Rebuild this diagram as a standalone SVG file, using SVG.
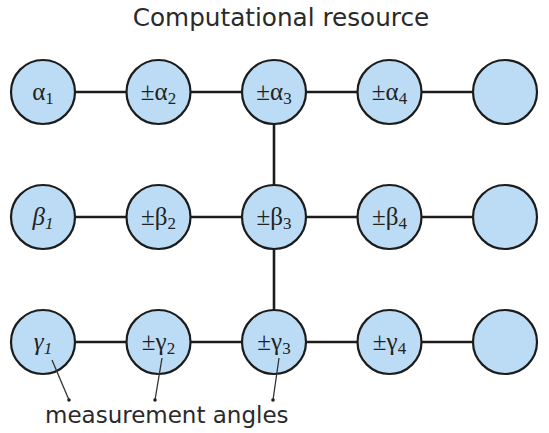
<svg xmlns="http://www.w3.org/2000/svg" width="549" height="433" viewBox="0 0 549 433">
<style>
.n{fill:#bcdcf5;stroke:#1c1c1c;stroke-width:2.2}
.c line{stroke:#1c1c1c;stroke-width:2.6}
.p line{stroke:#333;stroke-width:1.3}
.p circle{fill:#222}
.lab{font-family:"Liberation Serif","Times New Roman",serif;font-size:25px;fill:#222;text-anchor:middle}
.it{font-style:italic}
.sub{font-size:17px}
.cap{font-family:"DejaVu Sans",Verdana,sans-serif;font-size:23px;fill:#2a2a2a}
</style>
<rect width="549" height="433" fill="#ffffff"/>
<text class="cap" x="281" y="26" text-anchor="middle" style="font-size:24.7px">Computational resource</text>
<g class="c" id="connectors">
<line x1="75" y1="92" x2="127" y2="92"/>
<line x1="190" y1="92" x2="242" y2="92"/>
<line x1="306" y1="92" x2="358" y2="92"/>
<line x1="421" y1="92" x2="473" y2="92"/>
<line x1="75" y1="217" x2="127" y2="217"/>
<line x1="190" y1="217" x2="242" y2="217"/>
<line x1="306" y1="217" x2="358" y2="217"/>
<line x1="421" y1="217" x2="473" y2="217"/>
<line x1="75" y1="342" x2="127" y2="342"/>
<line x1="190" y1="342" x2="242" y2="342"/>
<line x1="306" y1="342" x2="358" y2="342"/>
<line x1="421" y1="342" x2="473" y2="342"/>
<line x1="274" y1="124" x2="274" y2="185"/>
<line x1="274" y1="249" x2="274" y2="310"/>
</g>
<g id="a1"><circle class="n" cx="43" cy="92" r="32"/><text class="lab" x="43" y="100">α<tspan class="sub" dy="4">1</tspan></text></g>
<g id="a2"><circle class="n" cx="158.5" cy="92" r="32"/><text class="lab" x="158.5" y="100">±α<tspan class="sub" dy="4">2</tspan></text></g>
<g id="a3"><circle class="n" cx="274" cy="92" r="32"/><text class="lab" x="274" y="100">±α<tspan class="sub" dy="4">3</tspan></text></g>
<g id="a4"><circle class="n" cx="389.5" cy="92" r="32"/><text class="lab" x="389.5" y="100">±α<tspan class="sub" dy="4">4</tspan></text></g>
<g id="a5"><circle class="n" cx="505" cy="92" r="32"/></g>
<g id="b1"><circle class="n" cx="43" cy="217" r="32"/><text class="lab it" x="43" y="225">β<tspan class="sub" dy="4">1</tspan></text></g>
<g id="b2"><circle class="n" cx="158.5" cy="217" r="32"/><text class="lab" x="158.5" y="225">±β<tspan class="sub" dy="4">2</tspan></text></g>
<g id="b3"><circle class="n" cx="274" cy="217" r="32"/><text class="lab" x="274" y="225">±β<tspan class="sub" dy="4">3</tspan></text></g>
<g id="b4"><circle class="n" cx="389.5" cy="217" r="32"/><text class="lab" x="389.5" y="225">±β<tspan class="sub" dy="4">4</tspan></text></g>
<g id="b5"><circle class="n" cx="505" cy="217" r="32"/></g>
<g id="g1"><circle class="n" cx="43" cy="342" r="32"/><text class="lab it" x="43" y="350">γ<tspan class="sub" dy="4">1</tspan></text></g>
<g id="g2"><circle class="n" cx="158.5" cy="342" r="32"/><text class="lab" x="158.5" y="350">±γ<tspan class="sub" dy="4">2</tspan></text></g>
<g id="g3"><circle class="n" cx="274" cy="342" r="32"/><text class="lab" x="274" y="350">±γ<tspan class="sub" dy="4">3</tspan></text></g>
<g id="g4"><circle class="n" cx="389.5" cy="342" r="32"/><text class="lab" x="389.5" y="350">±γ<tspan class="sub" dy="4">4</tspan></text></g>
<g id="g5"><circle class="n" cx="505" cy="342" r="32"/></g>
<g class="p" id="pointers">
<line x1="52" y1="360" x2="69" y2="400"/><circle cx="69" cy="400" r="1.8"/>
<line x1="162" y1="358" x2="155" y2="400"/><circle cx="155" cy="400" r="1.8"/>
<line x1="279" y1="358" x2="273" y2="400"/><circle cx="273" cy="400" r="1.8"/>
</g>
<text class="cap" x="45" y="423">measurement angles</text>
</svg>
